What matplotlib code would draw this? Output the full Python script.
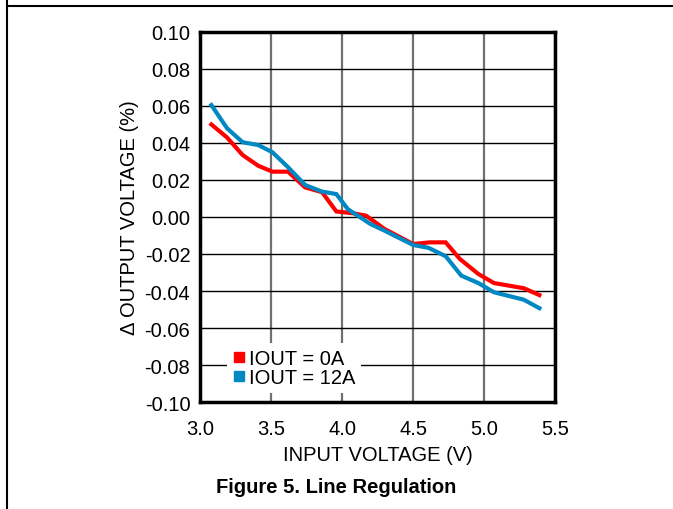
import matplotlib
matplotlib.use("Agg")
import matplotlib.pyplot as plt
from matplotlib.lines import Line2D

plt.rcParams["font.family"] = ["Liberation Sans", "DejaVu Sans"]

# input voltage (V)
vin_0a = [3.08, 3.19, 3.30, 3.41, 3.51, 3.62, 3.74, 3.86, 3.96, 4.08, 4.17,
          4.30, 4.50, 4.62, 4.73, 4.83, 4.96, 5.07, 5.28, 5.39]
dout_0a = [0.050, 0.043, 0.0335, 0.0277, 0.0245, 0.0245, 0.016, 0.0134, 0.003,
           0.002, 0.0007, -0.0065, -0.0146, -0.0137, -0.0137, -0.0227,
           -0.0308, -0.0357, -0.0385, -0.0422]

vin_12a = [3.08, 3.19, 3.30, 3.41, 3.51, 3.62, 3.74, 3.86, 3.96, 4.04, 4.20,
           4.30, 4.50, 4.61, 4.73, 4.84, 4.96, 5.07, 5.28, 5.39]
dout_12a = [0.0605, 0.048, 0.0404, 0.0389, 0.035, 0.0269, 0.0173, 0.0137,
            0.0124, 0.0043, -0.0038, -0.0074, -0.0151, -0.0167, -0.0212,
            -0.0317, -0.0357, -0.0407, -0.0447, -0.0493]

labels = ["IOUT = 0A", "IOUT = 12A"]
colors = ["#FF0000", "#0088C2"]

xticks = [3.0, 3.5, 4.0, 4.5, 5.0, 5.5]
yticks = [-0.10, -0.08, -0.06, -0.04, -0.02, 0.00, 0.02, 0.04, 0.06, 0.08, 0.10]

fs = 14.5

fig = plt.figure(figsize=(6.73, 5.10), dpi=100)
ax = fig.add_axes([0.2972, 0.2098, 0.5275, 0.7255])

ax.plot(vin_0a, dout_0a, color=colors[0], lw=3, solid_joinstyle="miter", zorder=3)
ax.plot(vin_12a, dout_12a, color=colors[1], lw=3, solid_joinstyle="miter", zorder=3)

ax.set_xlim(3.0, 5.5)
ax.set_ylim(-0.10, 0.10)
ax.set_xticks(xticks)
ax.set_yticks(yticks)
ax.set_xticklabels([f"{v:.1f}" for v in xticks])
ax.set_yticklabels([f"{v:.2f}" for v in yticks])
ax.tick_params(length=0, labelsize=fs)
ax.tick_params(axis="x", pad=12)
ax.tick_params(axis="y", pad=7)

ax.xaxis.grid(True, color="#707070", lw=1.6)
ax.yaxis.grid(True, color="black", lw=1.0)
ax.set_axisbelow(True)
for sp in ax.spines.values():
    sp.set_linewidth(2.5)

ax.set_xlabel("INPUT VOLTAGE (V)", fontsize=fs, labelpad=5)
ax.set_ylabel("\u0394 OUTPUT VOLTAGE (%)", fontsize=fs, labelpad=4)

handles = [Line2D([], [], ls="none", marker="s", ms=7, color=c) for c in colors]
leg = ax.legend(handles, labels, loc="lower left", bbox_to_anchor=(0.075, 0.025),
                fontsize=fs, frameon=True, fancybox=False, framealpha=1,
                facecolor="white", edgecolor="none", borderpad=0.3,
                handlelength=0.6, handletextpad=0.2, labelspacing=0.0,
                borderaxespad=0)
leg.set_zorder(5)

fig.text(0.5, 0.045, "Figure 5. Line Regulation", ha="center", va="center",
         fontsize=fs, fontweight="bold")

# page frame lines
fig.add_artist(Line2D([7 / 673, 1], [1 - 7 / 510, 1 - 7 / 510],
                      transform=fig.transFigure, color="black", lw=1.5))
fig.add_artist(Line2D([7 / 673, 7 / 673], [0, 1],
                      transform=fig.transFigure, color="black", lw=1.5))

fig.savefig("out.png", dpi=100)
